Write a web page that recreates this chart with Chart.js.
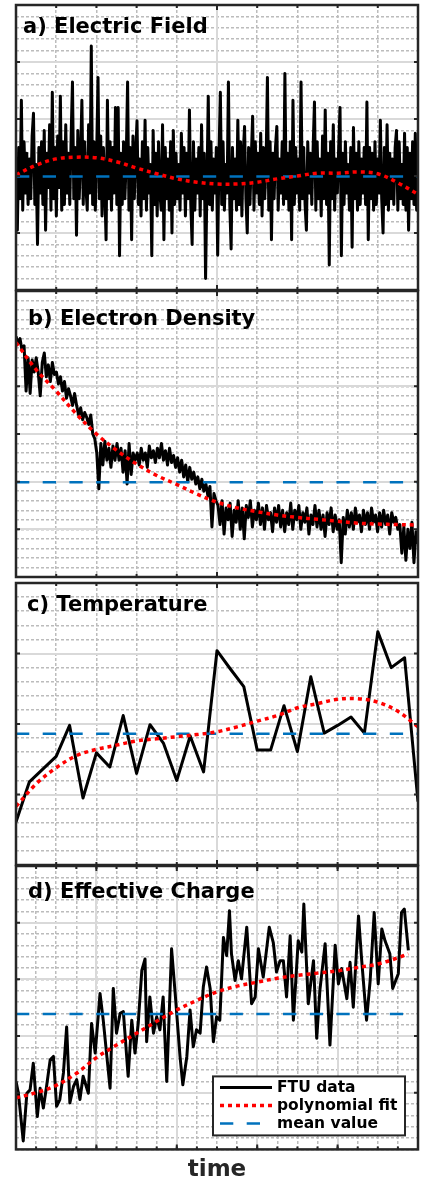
<!DOCTYPE html>
<html>
<head>
<meta charset="utf-8">
<script src="https://cdn.jsdelivr.net/npm/chart.js@4.4.1/dist/chart.umd.min.js"></script>
<style>
  html, body { margin: 0; padding: 0; background: #fff; overflow: hidden; }
  canvas { position: absolute; left: 0; }
</style>
</head>
<body>
<canvas id="chartA" width="421" height="295" style="top:0px"></canvas>
<canvas id="chartB" width="421" height="294" style="top:287px"></canvas>
<canvas id="chartC" width="421" height="290" style="top:579px"></canvas>
<canvas id="chartD" width="421" height="322" style="top:862px"></canvas>
<script>
// ---- data (x runs 0..1 over each panel) ----
const fitX = [0, 0.05, 0.1, 0.15, 0.2, 0.25, 0.3, 0.35, 0.4, 0.45, 0.5, 0.55, 0.6, 0.65, 0.7, 0.75, 0.8, 0.85, 0.9, 0.95, 1];

// a) Electric Field
const fieldY = [
  1.9, 1.05, 2.5, 1.6, 3.33, 1.4, 2.6, 1.7, 2.4, 1.5,
  2.3, 1.6, 2.7, 3.1, 1.5, 2.2, 0.8, 2.5, 1.7, 2.6,
  1.5, 2.8, 1.05, 2.4, 1.8, 2.9, 1.4, 3.47, 1.6, 2.5,
  1.3, 2.7, 1.8, 3.4, 1.4, 2.6, 1.5, 2.9, 1.7, 2.4,
  1.5, 2.7, 3.65, 1.6, 2.5, 0.96, 2.8, 1.6, 2.3, 3.33,
  1.5, 2.6, 1.8, 1.4, 2.9, 1.7, 4.28, 1.5, 2.6, 1.4,
  2.4, 3.73, 1.6, 2.7, 1.3, 2.5, 1.8, 0.88, 3.33, 1.6,
  2.6, 1.4, 2.5, 1.7, 3.2, 1.5, 3.2, 0.6, 2.4, 1.5,
  2.6, 1.6, 2.3, 3.65, 1.4, 2.5, 0.88, 2.7, 1.6, 2.4,
  2.97, 1.5, 2.3, 1.3, 2.6, 1.6, 2.98, 1.4, 2.5, 1.7,
  2.2, 0.6, 2.8, 1.5, 2.4, 1.3, 2.6, 1.7, 1.4, 2.9,
  0.88, 2.5, 1.6, 2.3, 1.4, 2.6, 1.0, 2.8, 1.5, 2.4,
  1.6, 2.2, 1.4, 2.75, 1.7, 2.5, 1.3, 2.4, 1.6, 3.16,
  1.5, 0.8, 2.6, 1.4, 2.3, 1.7, 2.5, 1.3, 2.9, 1.6,
  2.4, 0.2, 1.8, 3.4, 1.5, 2.6, 1.4, 2.3, 1.7, 2.5,
  0.61, 2.4, 3.47, 1.5, 2.6, 1.4, 2.2, 1.7, 3.65, 1.5,
  0.72, 2.5, 1.6, 2.3, 1.4, 2.98, 1.5, 2.6, 1.3, 2.4,
  2.87, 1.6, 1.0, 2.5, 1.5, 2.3, 3.05, 1.4, 2.6, 1.7,
  2.4, 1.5, 2.75, 1.3, 2.5, 1.6, 2.2, 3.73, 1.4, 2.6,
  0.88, 2.4, 1.6, 2.5, 2.87, 1.4, 2.3, 1.7, 2.6, 1.5,
  3.8, 1.6, 2.4, 1.4, 2.6, 0.88, 3.33, 1.5, 2.5, 1.7,
  2.3, 1.4, 3.65, 1.6, 2.5, 1.5, 1.05, 2.6, 1.7, 2.4,
  1.5, 2.5, 3.3, 1.4, 2.6, 1.6, 2.3, 1.3, 2.7, 1.6,
  3.16, 1.5, 2.4, 0.44, 2.6, 1.6, 2.9, 1.4, 2.3, 1.7,
  2.5, 3.2, 0.6, 2.4, 1.5, 2.6, 1.7, 2.2, 1.4, 2.5,
  0.75, 2.85, 1.6, 2.4, 1.4, 2.6, 1.5, 2.3, 1.7, 2.5,
  1.5, 3.3, 0.88, 2.5, 1.6, 2.4, 1.4, 2.6, 1.5, 2.3,
  1.7, 2.98, 1.6, 1.0, 2.5, 1.5, 2.9, 1.4, 2.4, 1.6,
  2.3, 1.5, 2.5, 2.8, 1.4, 2.6, 1.6, 2.2, 1.5, 2.75,
  1.4, 2.5, 1.05, 2.4, 1.6, 2.6, 1.5, 2.75, 1.4, 1.5
];
const fieldFit = [2.02, 2.19, 2.30, 2.33, 2.32, 2.25, 2.14, 2.04, 1.95, 1.89, 1.86, 1.86, 1.89, 1.95, 2.00, 2.05, 2.05, 2.07, 2.04, 1.88, 1.68];
const fieldMean = 1.99;

// b) Electron Density
const densityY = [
  5.05, 4.9, 5.0, 4.75, 4.85, 3.9, 4.6, 3.85, 4.55, 4.3,
  4.6, 4.3, 3.8, 4.5, 4.7, 4.2, 4.45, 4.1, 4.5, 4.25,
  4.3, 4.05, 4.2, 3.9, 4.1, 3.75, 3.95, 3.8, 3.6, 3.85,
  3.6, 3.4, 3.55, 3.3, 3.45, 3.35, 3.2, 3.4, 3.0, 2.9,
  2.6, 1.85, 2.8, 2.35, 2.85, 2.45, 2.7, 2.3, 2.75, 2.45,
  2.8, 2.45, 2.7, 2.2, 2.65, 1.95, 2.8, 2.15, 2.6, 2.45,
  2.6, 2.35, 2.7, 2.45, 2.6, 2.3, 2.75, 2.5, 2.65, 2.4,
  2.7, 2.5, 2.8, 2.45, 2.65, 2.35, 2.7, 2.4, 2.55, 2.3,
  2.5, 2.2, 2.45, 2.1, 2.35, 2.0, 2.3, 2.05, 2.2, 1.95,
  2.1, 1.85, 2.05, 1.8, 1.95, 1.7, 1.9, 1.05, 1.75, 1.6,
  1.5, 1.1, 1.6, 0.9, 1.45, 1.2, 1.55, 0.85, 1.4, 1.15,
  1.6, 1.0, 1.45, 0.8, 1.5, 1.25, 1.6, 1.05, 1.4, 1.2,
  1.55, 1.1, 1.45, 1.0, 1.5, 1.2, 1.35, 0.95, 1.45, 1.15,
  1.5, 1.05, 1.4, 0.95, 1.35, 1.1, 1.55, 1.0, 1.4, 1.2,
  1.5, 1.0, 1.35, 1.15, 1.45, 0.9, 1.3, 1.1, 1.5, 1.05,
  1.4, 1.0, 1.3, 0.85, 1.35, 1.1, 1.45, 0.95, 1.3, 1.0,
  1.2, 0.3, 1.25, 0.9, 1.4, 1.05, 1.35, 1.0, 1.45, 1.15,
  1.3, 0.95, 1.4, 1.1, 1.35, 1.0, 1.45, 1.15, 1.3, 0.95,
  1.35, 1.05, 1.4, 1.1, 1.3, 0.9, 1.35, 1.15, 1.25, 1.0,
  1.1, 0.5, 1.05, 0.35, 1.0, 0.6, 1.15, 0.3, 0.95, 0.7
];
const densityFit = [4.92, 4.35, 3.90, 3.42, 3.00, 2.66, 2.37, 2.13, 1.94, 1.74, 1.57, 1.45, 1.37, 1.30, 1.25, 1.21, 1.17, 1.13, 1.11, 1.10, 1.09];
const densityMean = 1.99;

// c) Temperature
const tempY = [0.61, 1.18, 1.36, 1.54, 1.98, 0.95, 1.59, 1.39, 2.12, 1.30, 1.99, 1.73, 1.20, 1.83, 1.32, 3.04,
  2.78, 2.53, 1.63, 1.63, 2.26, 1.61, 2.67, 1.87, 1.98, 2.10, 1.87, 3.31, 2.80, 2.94, 0.90];
const tempFit = [0.83, 1.15, 1.38, 1.55, 1.64, 1.70, 1.76, 1.79, 1.82, 1.85, 1.89, 1.96, 2.04, 2.12, 2.23, 2.29, 2.35, 2.36, 2.31, 2.18, 1.96];
const tempMean = 1.86;

// d) Effective Charge
const chargeX = [0, 0.006, 0.018, 0.027, 0.035, 0.043, 0.053, 0.060, 0.068, 0.076, 0.085, 0.093, 0.101, 0.109, 0.118,
  0.126, 0.134, 0.143, 0.151, 0.159, 0.167, 0.180, 0.188, 0.197, 0.209, 0.217, 0.226, 0.234, 0.242, 0.250, 0.259,
  0.267, 0.279, 0.288, 0.296, 0.304, 0.313, 0.321, 0.325, 0.333, 0.342, 0.350, 0.358, 0.366, 0.375, 0.387, 0.396,
  0.408, 0.415, 0.425, 0.433, 0.441, 0.449, 0.458, 0.466, 0.474, 0.483, 0.491, 0.499, 0.507, 0.516, 0.524, 0.531,
  0.536, 0.545, 0.553, 0.561, 0.574, 0.586, 0.595, 0.603, 0.615, 0.630, 0.640, 0.648, 0.657, 0.665, 0.673, 0.682,
  0.690, 0.702, 0.711, 0.716, 0.727, 0.740, 0.748, 0.756, 0.769, 0.781, 0.794, 0.802, 0.810, 0.823, 0.831, 0.839,
  0.852, 0.860, 0.872, 0.881, 0.891, 0.901, 0.910, 0.918, 0.930, 0.937, 0.951, 0.959, 0.966, 0.976];
const chargeY = [1.20, 0.99, 0.15, 0.99, 1.05, 1.52, 0.58, 1.08, 0.73, 1.11, 1.58, 1.64, 0.76, 0.88, 1.35,
  2.16, 0.82, 1.11, 1.23, 0.88, 1.29, 0.99, 2.22, 1.70, 2.75, 2.28, 1.64, 1.08, 2.84, 2.05, 2.40,
  2.43, 1.29, 2.28, 1.70, 2.22, 3.16, 3.36, 1.90, 2.69, 2.05, 2.34, 2.11, 2.69, 1.20, 3.54, 2.75,
  1.64, 1.14, 1.64, 2.46, 1.81, 2.11, 2.05, 2.87, 3.22, 2.84, 1.90, 2.34, 2.28, 3.74, 3.42, 4.21,
  3.45, 2.98, 3.33, 3.01, 3.92, 2.57, 2.69, 3.54, 3.04, 3.92, 3.65, 3.13, 3.33, 3.33, 2.69, 3.77,
  2.28, 3.68, 3.48, 4.33, 2.57, 3.33, 1.96, 2.81, 3.63, 1.84, 3.60, 2.92, 3.19, 2.66, 3.30, 2.51,
  4.12, 3.33, 2.28, 2.98, 4.18, 2.92, 3.89, 3.68, 3.45, 2.84, 3.10, 4.18, 4.24, 3.51];
const chargeFitX = [0, 0.05, 0.1, 0.15, 0.2, 0.25, 0.3, 0.35, 0.4, 0.45, 0.5, 0.55, 0.6, 0.65, 0.7, 0.75, 0.8, 0.85, 0.9, 0.95, 0.976];
const chargeFit = [0.91, 1.00, 1.13, 1.34, 1.62, 1.84, 2.05, 2.26, 2.46, 2.63, 2.78, 2.88, 2.95, 3.02, 3.07, 3.11, 3.15, 3.21, 3.27, 3.38, 3.45];
const chargeMean = 2.39;

const titles = ['a) Electric Field', 'b) Electron Density', 'c) Temperature', 'd) Effective Charge'];
const legendLabels = ['FTU data', 'polynomial fit', 'mean value'];

// tick positions (no labels are shown)
function steps(from, to, step) {
  const out = [];
  for (let v = from; v <= to + 1e-9; v += step) out.push(Math.round(v * 1000) / 1000);
  return out;
}
const xMajor = [0, 0.5, 1];
const xMinor = steps(0, 1, 0.1);
const xMajorD = steps(0, 1, 0.2);
const xMinorD = steps(0, 1, 0.05);

Chart.defaults.font.family = '"DejaVu Sans", sans-serif';

const AXIS = '#262626';

// box, inward ticks and panel name, like the MATLAB axes
const framePlugin = {
  id: 'frame',
  afterDraw(chart, args, opts) {
    const { ctx, chartArea: a } = chart;
    ctx.save();
    ctx.strokeStyle = AXIS;
    ctx.lineWidth = 2;
    const marks = (scale, len, horiz) => {
      scale.ticks.forEach(t => {
        const p = scale.getPixelForValue(t.value);
        ctx.beginPath();
        if (horiz) {
          ctx.moveTo(p, a.top); ctx.lineTo(p, a.top + len);
          ctx.moveTo(p, a.bottom); ctx.lineTo(p, a.bottom - len);
        } else {
          ctx.moveTo(a.left, p); ctx.lineTo(a.left + len, p);
          ctx.moveTo(a.right, p); ctx.lineTo(a.right - len, p);
        }
        ctx.stroke();
      });
    };
    marks(chart.scales.xm, 3, true);
    marks(chart.scales.x, 5, true);
    marks(chart.scales.y, 4, false);
    ctx.lineWidth = 2.5;
    ctx.strokeRect(a.left, a.top, a.width, a.height);
    ctx.fillStyle = '#000';
    ctx.font = 'bold 21px "DejaVu Sans"';
    ctx.textBaseline = 'alphabetic';
    ctx.fillText(opts.text, a.left + opts.dx, a.top + opts.dy);
    ctx.restore();
  }
};
Chart.register(framePlugin);

// legend in a white box at the lower right of the last panel
const boxLegend = {
  id: 'boxLegend',
  afterDraw(chart, args, opts) {
    const { ctx, chartArea: a } = chart;
    const x0 = a.right - opts.right - opts.width;
    const y0 = a.bottom - opts.bottom - opts.height;
    ctx.save();
    ctx.fillStyle = '#fff';
    ctx.fillRect(x0, y0, opts.width, opts.height);
    ctx.lineWidth = 2;
    ctx.strokeStyle = AXIS;
    ctx.strokeRect(x0, y0, opts.width, opts.height);
    ctx.font = 'bold 15.5px "DejaVu Sans"';
    ctx.textBaseline = 'middle';
    chart.data.datasets.forEach((ds, i) => {
      const y = y0 + opts.rowTop + i * opts.rowGap;
      ctx.beginPath();
      ctx.setLineDash(ds.borderDash || []);
      ctx.lineWidth = ds.borderWidth;
      ctx.strokeStyle = ds.borderColor;
      ctx.moveTo(x0 + 7, y);
      ctx.lineTo(x0 + 59, y);
      ctx.stroke();
      ctx.setLineDash([]);
      ctx.fillStyle = '#000';
      ctx.fillText(ds.label, x0 + 64, y + 1);
    });
    ctx.restore();
  }
};

function gridScale(axis, min, max, ticks, major) {
  return {
    type: 'linear', axis: axis, min: min, max: max,
    ticks: { display: false },
    afterBuildTicks: s => { s.ticks = ticks.map(v => ({ value: v })); },
    grid: { drawTicks: false, color: major ? '#d9d9d9' : '#bcbcbc', lineWidth: major ? 2 : 1.5 },
    border: { display: false, dash: major ? [] : [3, 2] }
  };
}

function pairs(xs, ys) {
  return ys.map((y, i) => ({ x: xs[i], y: y }));
}
function even(ys) {
  return ys.map((y, i) => ({ x: i / (ys.length - 1), y: y }));
}

function makePanel(id, opts) {
  const scales = {
    xm: gridScale('x', 0, 1, opts.xMinor, false),
    ym: gridScale('y', 0, opts.yMax, steps(0, opts.yMax, 0.2), false),
    x: gridScale('x', 0, 1, opts.xMajor, true),
    y: gridScale('y', 0, opts.yMax, opts.yMajor, true)
  };
  if (opts.xTitle) {
    scales.x.title = {
      display: true, text: opts.xTitle, color: AXIS,
      font: { size: 23, weight: 'bold' }, padding: { top: 7, bottom: 0 }
    };
  }
  return new Chart(document.getElementById(id), {
    type: 'line',
    data: {
      datasets: [{
        label: legendLabels[0],
        data: opts.data,
        borderColor: '#000000',
        borderWidth: 3,
        borderJoinStyle: 'round',
        pointRadius: 0,
        tension: 0,
        order: 3,
        xAxisID: 'x', yAxisID: 'y'
      }, {
        label: legendLabels[1],
        data: opts.fit,
        borderColor: '#ff0000',
        borderWidth: 3.5,
        borderDash: [4, 4],
        pointRadius: 0,
        tension: 0.35,
        order: 1,
        xAxisID: 'x', yAxisID: 'y'
      }, {
        label: legendLabels[2],
        data: opts.mean,
        borderColor: '#0072bd',
        borderWidth: 2.5,
        borderDash: [13.3, 13.4],
        pointRadius: 0,
        order: 2,
        xAxisID: 'x', yAxisID: 'y'
      }]
    },
    options: {
      responsive: false,
      animation: false,
      layout: { padding: opts.padding },
      scales: scales,
      plugins: {
        legend: { display: false },
        tooltip: { enabled: false },
        frame: { text: opts.title, dx: opts.labelDx, dy: opts.labelDy },
        boxLegend: { right: 13, bottom: 14, width: 192, height: 59, rowTop: 11, rowGap: 18 }
      }
    },
    plugins: opts.legend ? [boxLegend] : []
  });
}

makePanel('chartA', {
  title: titles[0], labelDx: 7, labelDy: 28,
  padding: { left: 16, right: 3, top: 5, bottom: 5 },
  yMax: 5, yMajor: [1, 2, 3, 4], xMajor: xMajor, xMinor: xMinor,
  data: even(fieldY), fit: pairs(fitX, fieldFit),
  mean: [{ x: 0, y: fieldMean }, { x: 1, y: fieldMean }]
});

makePanel('chartB', {
  title: titles[1], labelDx: 12, labelDy: 34,
  padding: { left: 16, right: 3, top: 4, bottom: 4 },
  yMax: 6, yMajor: [1, 2, 3, 4], xMajor: xMajor, xMinor: xMinor,
  data: even(densityY), fit: pairs(fitX, densityFit),
  mean: [{ x: 0, y: densityMean }, { x: 1, y: densityMean }]
});

makePanel('chartC', {
  title: titles[2], labelDx: 11, labelDy: 28,
  padding: { left: 16, right: 3, top: 4, bottom: 4 },
  yMax: 4, yMajor: [1, 2, 3], xMajor: xMajor, xMinor: xMinor,
  data: even(tempY), fit: pairs(fitX, tempFit),
  mean: [{ x: 0, y: tempMean }, { x: 1, y: tempMean }]
});

makePanel('chartD', {
  title: titles[3], labelDx: 12, labelDy: 32,
  padding: { left: 16, right: 3, top: 4, bottom: 0 },
  yMax: 5, yMajor: [1, 2, 3, 4], xMajor: xMajorD, xMinor: xMinorD,
  xTitle: 'time', legend: true,
  data: pairs(chargeX, chargeY), fit: pairs(chargeFitX, chargeFit),
  mean: [{ x: 0, y: chargeMean }, { x: 0.976, y: chargeMean }]
});
</script>
</body>
</html>
